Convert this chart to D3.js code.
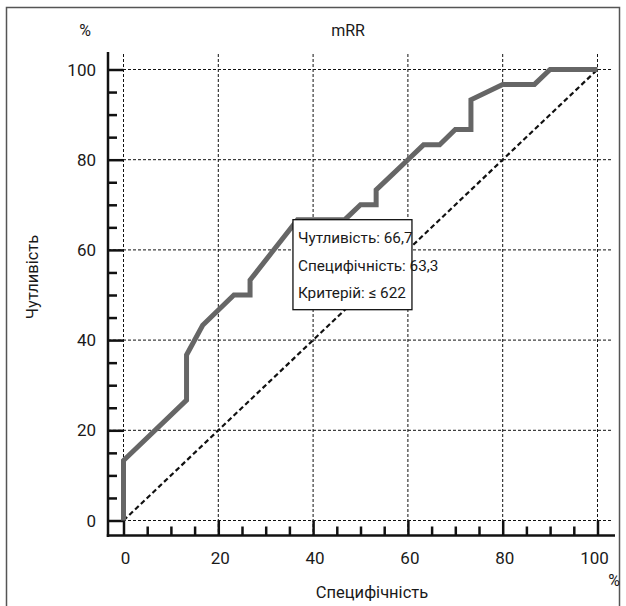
<!DOCTYPE html>
<html><head><meta charset="utf-8">
<script src="https://cdn.jsdelivr.net/npm/d3@7"></script>
<style>
html,body{margin:0;padding:0;background:#fff;}
svg text{font-family:"Roboto","Liberation Sans",sans-serif;fill:#1a1a1a;}
</style></head>
<body><svg id="c" width="626" height="606"></svg>
<script>
// ROC curve points: x = 100 - specificity, y = sensitivity
const rocX = [0, 0, 13.3, 13.3, 16.7, 23.3, 26.7, 26.7, 36.7, 46.7, 50, 53.3, 53.3, 56.7, 60, 63.3, 66.7, 70, 73.3, 73.3, 80, 86.7, 90, 100];
const rocY = [0, 13.3, 26.7, 36.7, 43.3, 50, 50, 53.3, 66.7, 66.7, 70, 70, 73.3, 76.7, 80, 83.3, 83.3, 86.7, 86.7, 93.3, 96.7, 96.7, 100, 100];
const majorTicks = [0, 20, 40, 60, 80, 100];
const minorTicks = d3.range(0, 101, 5);
const title = "mRR";
const xTitle = "Специфічність";
const yTitle = "Чутливість";
const note = ["Чутливість: 66,7", "Специфічність: 63,3", "Критерій: \u2264 622"];
const notePoint = [36.7, 66.7];

const svg = d3.select("#c");
// outer frame
svg.append("rect").attr("x",6.5).attr("y",7.5).attr("width",613).attr("height",620)
  .attr("fill","none").attr("stroke","#555").attr("stroke-width",1.5);

const x = d3.scaleLinear().domain([0,100]).range([123.5,597.5]);
const y = d3.scaleLinear().domain([0,100]).range([520.5,69.5]);
const axX = 108, axY = 535.5;

// gridlines
const g = svg.append("g");
g.selectAll("line.v").data(majorTicks).join("line")
  .attr("x1",d=>x(d)).attr("x2",d=>x(d)).attr("y1",54).attr("y2",axY)
  .attr("stroke","#111").attr("stroke-width",1).attr("stroke-dasharray","3,2");
g.selectAll("line.h").data(majorTicks).join("line")
  .attr("y1",d=>y(d)).attr("y2",d=>y(d)).attr("x1",axX).attr("x2",612)
  .attr("stroke","#111").attr("stroke-width",1).attr("stroke-dasharray","3,2");

// diagonal reference line
svg.append("line").attr("x1",x(0)).attr("y1",y(0)).attr("x2",x(100)).attr("y2",y(100))
  .attr("stroke","#111").attr("stroke-width",2.2).attr("stroke-dasharray","5,3");

// Y axis
const yAxis = d3.axisLeft(y).tickValues(minorTicks).tickFormat("").tickSize(-9).tickSizeOuter(0);
const ya = svg.append("g").attr("transform",`translate(${axX},0)`).call(yAxis);
ya.select(".domain").remove();
ya.selectAll(".tick line").attr("stroke","#111").attr("stroke-width",2.5)
  .attr("x2",d=>majorTicks.includes(d) ? x(0)-axX : 9);
svg.append("line").attr("x1",axX).attr("x2",axX).attr("y1",52).attr("y2",axY+1.5)
  .attr("stroke","#111").attr("stroke-width",2.5);
svg.selectAll("text.yl").data(majorTicks).join("text")
  .attr("x",96).attr("y",d=>y(d)).attr("dy","0.36em").attr("text-anchor","end")
  .attr("font-size",17).text(d=>d);

// X axis
const xAxis = d3.axisTop(x).tickValues(minorTicks).tickFormat("").tickSize(9).tickSizeOuter(0);
const xa = svg.append("g").attr("transform",`translate(0,${axY})`).call(xAxis);
xa.select(".domain").remove();
xa.selectAll(".tick line").attr("stroke","#111").attr("stroke-width",2.5)
  .attr("y2",d=>majorTicks.includes(d) ? -(axY-y(0)) : -9);
svg.append("line").attr("x1",axX-1.2).attr("x2",615).attr("y1",axY).attr("y2",axY)
  .attr("stroke","#111").attr("stroke-width",2.5);
svg.selectAll("text.xl").data(majorTicks).join("text")
  .attr("x",d=>x(d)+(d===100?-3:2)).attr("y",558).attr("dy","0.36em").attr("text-anchor","middle")
  .attr("font-size",17).text(d=>d);

// ROC curve
const pts = rocX.map((v,i)=>[v, rocY[i]]);
svg.append("path").datum(pts)
  .attr("d", d3.line().x(d=>x(d[0])).y(d=>y(d[1])))
  .attr("fill","none").attr("stroke","#666").attr("stroke-width",5).attr("stroke-linejoin","miter");

// annotation box
const bx = x(notePoint[0]) - 4.5, by = y(notePoint[1]);
svg.append("rect").attr("x",bx).attr("y",by).attr("width",119).attr("height",90)
  .attr("fill","#fff").attr("stroke","#111").attr("stroke-width",1.3);
svg.selectAll("text.note").data(note).join("text")
  .attr("x",bx+5).attr("y",(d,i)=>by+18+i*27.5).attr("dy","0.36em")
  .attr("font-size",15.3).text(d=>d);

// titles
svg.append("text").attr("x",348).attr("y",30).attr("dy","0.36em").attr("text-anchor","middle")
  .attr("font-size",16).text(title);
svg.append("text").attr("x",85).attr("y",30).attr("dy","0.36em").attr("text-anchor","middle")
  .attr("font-size",16).text("%");
svg.append("text").attr("x",614).attr("y",580).attr("dy","0.36em").attr("text-anchor","middle")
  .attr("font-size",16).text("%");
svg.append("text").attr("x",372).attr("y",592).attr("dy","0.36em").attr("text-anchor","middle")
  .attr("font-size",16.5).text(xTitle);
svg.append("text").attr("transform","translate(32,277) rotate(-90)").attr("dy","0.36em")
  .attr("text-anchor","middle").attr("font-size",16.5).text(yTitle);
</script></body></html>
